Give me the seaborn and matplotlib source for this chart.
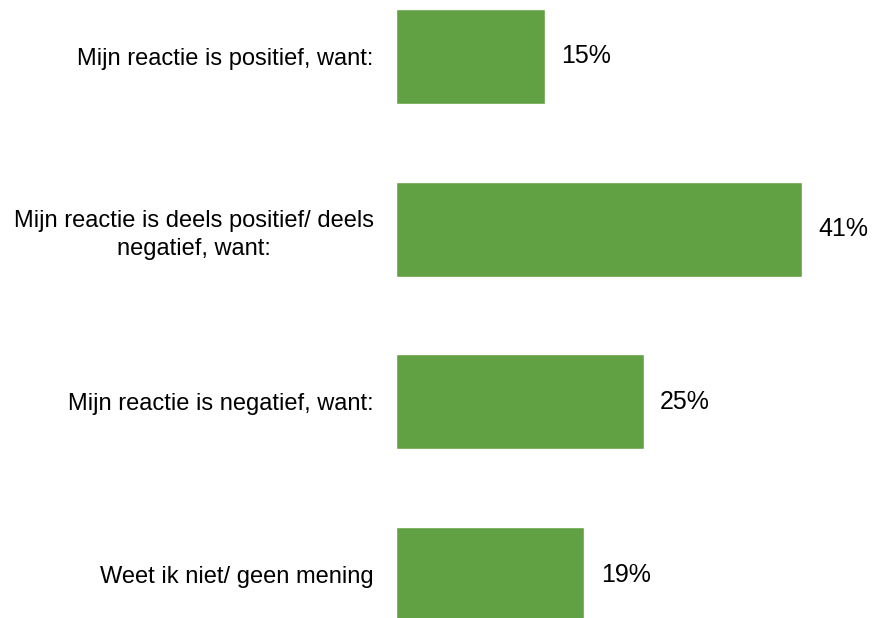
import matplotlib
matplotlib.use("Agg")
import matplotlib.pyplot as plt
import seaborn as sns
import pandas as pd

categories = [
    "Mijn reactie is positief, want:",
    "Mijn reactie is deels positief/ deels\nnegatief, want:",
    "Mijn reactie is negatief, want:",
    "Weet ik niet/ geen mening",
]
values = [15, 41, 25, 19]
value_labels = ["15%", "41%", "25%", "19%"]

df = pd.DataFrame({"antwoord": categories, "pct": values})

sns.set_style("white")
plt.rcParams["font.family"] = ["Liberation Sans", "DejaVu Sans"]

fig = plt.figure(figsize=(8.75, 6.18), dpi=100)
ax = fig.add_axes([396 / 875, 0, 475.2 / 875, 1])

sns.barplot(data=df, x="pct", y="antwoord", color="#62A044", width=0.55,
            saturation=1, ax=ax)

ax.set_xlim(0, 48)
ax.set_ylim(3.2514, -0.3266)
ax.set_xlabel("")
ax.set_ylabel("")
ax.set_xticks([])
sns.despine(ax=ax, left=True, bottom=True)
ax.tick_params(axis="y", length=0, pad=16, labelsize=17, labelcolor="black")
for lab in ax.get_yticklabels():
    lab.set_multialignment("center")
    lab.set_linespacing(1.4)

ax.bar_label(ax.containers[0], labels=value_labels, padding=12, fontsize=18,
             color="black")

fig.savefig("out.png", dpi=100)
